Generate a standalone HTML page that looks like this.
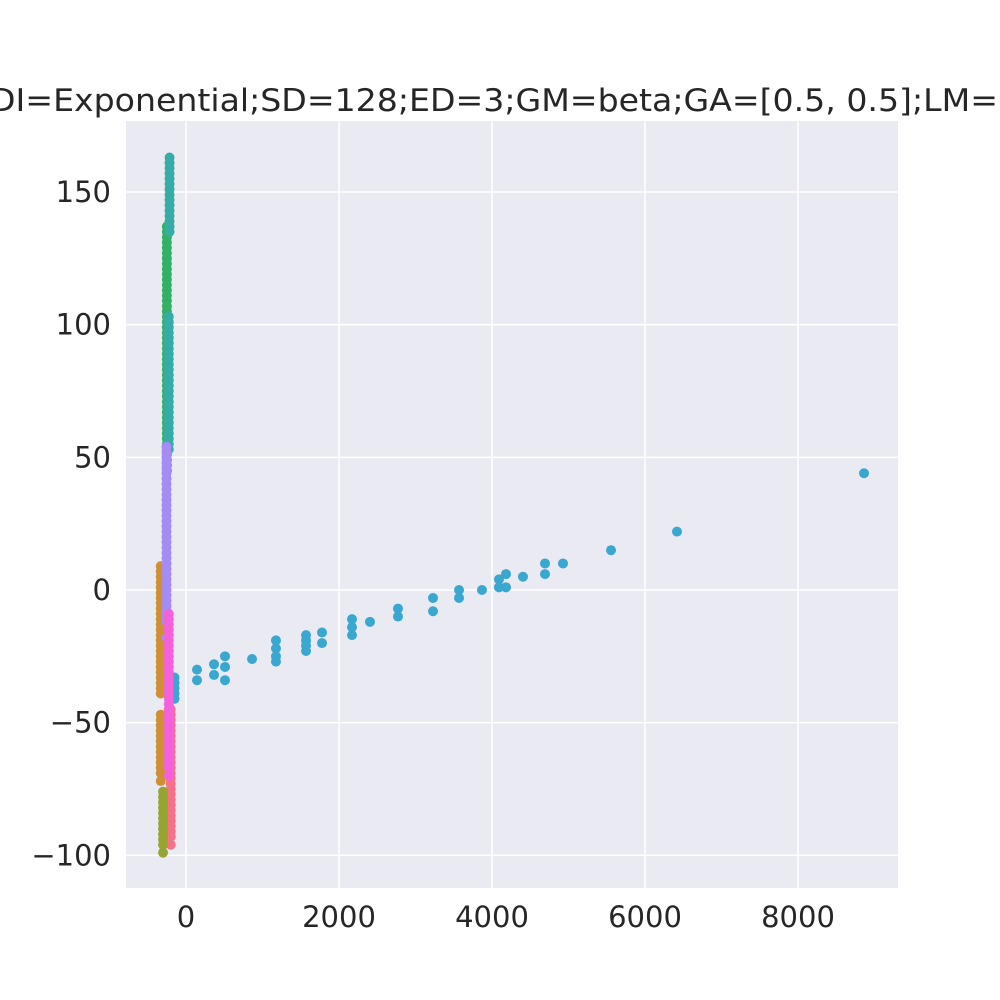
<!DOCTYPE html>
<html><head><meta charset="utf-8"><style>
html,body{margin:0;padding:0;background:#fff;}
svg{display:block;font-family:"DejaVu Sans","Liberation Sans",sans-serif;}
</style></head><body>
<svg id="chart" width="1000" height="1000" viewBox="0 0 1000 1000" xmlns="http://www.w3.org/2000/svg">
<rect x="0" y="0" width="1000" height="1000" fill="#fff"/>
<text x="-10" y="111" font-size="31" fill="#262626" textLength="1008" lengthAdjust="spacingAndGlyphs">DI=Exponential;SD=128;ED=3;GM=beta;GA=[0.5, 0.5];LM=</text>
<rect x="126" y="121" width="772" height="767" fill="#eaeaf2"/>
<g id="grid"></g>
<g id="marks"></g>
<g id="ticks"></g>
</svg>
<script>
const xTicks = [0, 2000, 4000, 6000, 8000];
const xTickLabels = ["0", "2000", "4000", "6000", "8000"];
const yTicks = [-100, -50, 0, 50, 100, 150];
const yTickLabels = ["\u2212100", "\u221250", "0", "50", "100", "150"];

const classNames = ["pink", "orange", "olive", "green", "teal", "blue", "purple", "magenta"];
const classColors = ["#f77189", "#ce9032", "#97a431", "#32b166", "#36ada4", "#39a7d0", "#a48cf4", "#f561dd"];

const pinkX = -200;
const pinkY = [-45,-47,-49,-51,-53,-55,-57,-59,-61,-63,-65,-67,-69,-71,-73,-75,-77,-79,-81,-83,-85,-87,-89,-91,-93,-96];
const orangeX = -330;
const orangeY = [9,7,5,3,1,-1,-3,-5,-7,-9,-11,-13,-15,-17,-19,-21,-23,-25,-27,-29,-31,-33,-35,-37,-39,-47,-49,-51,-53,-55,-57,-59,-61,-63,-65,-67,-69,-72];
const oliveX = -300;
const oliveY = [-76,-78,-80,-82,-84,-86,-88,-90,-92,-94,-96,-99];
const greenX = -250;
const greenY = [137,135,133,131,129,127,125,123,121,119,117,115,113,111,109,107,105,103,101,99,97,95,93,91,89,87,85,83,81,79,77,75,73,71,69,67,65,63,61,59,57,55,53,51,49,47,45];
const tealTopX = -215;
const tealTopY = [163,161,159,157,155,153,151,149,147,145,143,141,139,137,135];
const tealLowX = -225;
const tealLowY = [103,101,99,97,95,93,91,89,87,85,83,81,79,77,75,73,71,69,67,65,63,61,59,57,55,53];
const purpleX = -255;
const purpleY = [54,52,50,48,46,44,42,40,38,36,34,32,30,28,26,24,22,20,18,16,14,12,10,8,6,4,2,0,-2,-4,-6,-8,-10,-12,-18];
const magentaX = -225;
const magentaY = [-9,-11,-13,-15,-17,-19,-21,-23,-25,-27,-29,-31,-33,-35,-37,-39,-41,-43,-45,-47,-49,-51,-53,-55,-57,-59,-61,-63,-65,-67,-70];
const blueClusterX = -150;
const blueClusterY = [-33,-35,-37,-39,-41];
const blueLineX = [144,144,366,366,510,510,510,863,1176,1176,1176,1176,1569,1569,1569,1569,1778,1778,2170,2170,2170,2405,2771,2771,3229,3229,3569,3569,3869,4091,4091,4183,4183,4405,4693,4693,4928,5556,6418,8863];
const blueLineY = [-30,-34,-28,-32,-25,-29,-34,-26,-19,-22,-25,-27,-17,-19,-21,-23,-16,-20,-11,-14,-17,-12,-7,-10,-3,-8,0,-3,0,4,1,6,1,5,10,6,10,15,22,44];

const X0 = 186, XS = 153/2000;
const Y0 = 590, YS = 398/150;
function xs(v){ return X0 + v*XS; }
function ys(v){ return Y0 - v*YS; }
const NS = "http://www.w3.org/2000/svg";
const grid = document.getElementById('grid');
const marks = document.getElementById('marks');
const ticks = document.getElementById('ticks');

xTicks.forEach((t,i)=>{
  const l = document.createElementNS(NS,'line');
  
  
  l.setAttribute('x1', xs(t)); l.setAttribute('x2', xs(t));
  l.setAttribute('y1', 121); l.setAttribute('y2', 888);
  l.setAttribute('stroke', '#fff'); l.setAttribute('stroke-width', '1.5');
  grid.appendChild(l);
  const tx = document.createElementNS(NS,'text');
  
  
  tx.setAttribute('x', xs(t)); tx.setAttribute('y', 927);
  tx.setAttribute('text-anchor', 'middle'); tx.setAttribute('font-size', '29'); tx.setAttribute('fill', '#262626');
  tx.textContent = xTickLabels[i];
  ticks.appendChild(tx);
});
yTicks.forEach((t,i)=>{
  const l = document.createElementNS(NS,'line');
  
  
  l.setAttribute('x1', 126); l.setAttribute('x2', 898);
  l.setAttribute('y1', ys(t)); l.setAttribute('y2', ys(t));
  l.setAttribute('stroke', '#fff'); l.setAttribute('stroke-width', '1.5');
  grid.appendChild(l);
  const tx = document.createElementNS(NS,'text');
  
  
  tx.setAttribute('x', 111); tx.setAttribute('y', ys(t)+10);
  tx.setAttribute('text-anchor', 'end'); tx.setAttribute('font-size', '29'); tx.setAttribute('fill', '#262626');
  tx.textContent = yTickLabels[i];
  ticks.appendChild(tx);
});

function dot(x, y, color, name){
  const c = document.createElementNS(NS,'circle');
  
  
  c.setAttribute('cx', xs(x)); c.setAttribute('cy', ys(y)); c.setAttribute('r', 5);
  c.setAttribute('fill', color);
  marks.appendChild(c);
}
pinkY.forEach(v=>dot(pinkX, v, classColors[0], 'point-pink'));
orangeY.forEach(v=>dot(orangeX, v, classColors[1], 'point-orange'));
oliveY.forEach(v=>dot(oliveX, v, classColors[2], 'point-olive'));
greenY.forEach(v=>dot(greenX, v, classColors[3], 'point-green'));
tealTopY.forEach(v=>dot(tealTopX, v, classColors[4], 'point-teal'));
tealLowY.forEach(v=>dot(tealLowX, v, classColors[4], 'point-teal'));
blueClusterY.forEach(v=>dot(blueClusterX, v, classColors[5], 'point-blue'));
blueLineX.forEach((x,i)=>dot(x, blueLineY[i], classColors[5], 'point-blue'));
purpleY.forEach(v=>dot(purpleX, v, classColors[6], 'point-purple'));
magentaY.forEach(v=>dot(magentaX, v, classColors[7], 'point-magenta'));
</script>
</body></html>
